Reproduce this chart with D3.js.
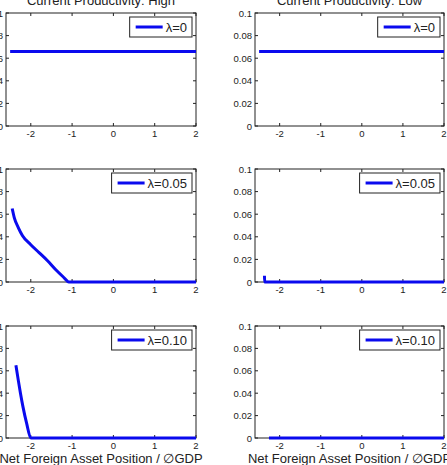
<!DOCTYPE html>
<html>
<head>
<meta charset="utf-8">
<title>Productivity panels</title>
<script src="https://cdn.jsdelivr.net/npm/d3@7"></script>
<style>
  body { margin: 0; background: #fff; }
  text { font-family: "Liberation Sans", Arial, sans-serif; fill: #222; }
</style>
</head>
<body>
<script>
// column titles, legend labels, ticks
var titles = ["Current Productivity: High", "Current Productivity: Low"];
var legends = ["\u03bb=0", "\u03bb=0.05", "\u03bb=0.10"];
var xTicks = [-2, -1, 0, 1, 2];
var yTicks = [0, 0.02, 0.04, 0.06, 0.08, 0.1];
var xLabel = "Net Foreign Asset Position / \u2205GDP";

// high productivity, lambda = 0 / 0.05 / 0.10
var highL0x  = [-2.5, 2];
var highL0y  = [0.066, 0.066];
var highL5x  = [-2.45, -2.4, -2.3, -2.2, -2.0, -1.8, -1.6, -1.4, -1.2, -1.08, 2];
var highL5y  = [0.065, 0.057, 0.048, 0.041, 0.033, 0.026, 0.019, 0.011, 0.004, 0, 0];
var highL10x = [-2.36, -2.3, -2.25, -2.19, -2.1, -2.0, 2];
var highL10y = [0.065, 0.051, 0.040, 0.028, 0.013, 0, 0];

// low productivity
var lowL0x  = [-2.5, 2];
var lowL0y  = [0.066, 0.066];
var lowL5x  = [-2.37, -2.365, 2];
var lowL5y  = [0.0055, 0, 0];
var lowL10x = [-2.26, 2];
var lowL10y = [0, 0];

var series = [
  [[highL0x, highL0y], [lowL0x, lowL0y]],
  [[highL5x, highL5y], [lowL5x, lowL5y]],
  [[highL10x, highL10y], [lowL10x, lowL10y]]
];

var W = 447, H = 465;
var colLeft = [6, 255], colRight = [196, 444];
var rowTop = [13, 169, 326], rowBottom = [126, 282, 438];

var svg = d3.select("body").append("svg")
    .attr("width", W)
    .attr("height", H);

for (var r = 0; r < 3; r++) {
  for (var c = 0; c < 2; c++) {
    var x = d3.scaleLinear().domain([-2.6, 2]).range([colLeft[c], colRight[c]]);
    var y = d3.scaleLinear().domain([0, 0.1]).range([rowBottom[r], rowTop[r]]);
    var g = svg.append("g");

    // frame
    g.append("rect")
        .attr("x", colLeft[c]).attr("y", rowTop[r])
        .attr("width", colRight[c] - colLeft[c])
        .attr("height", rowBottom[r] - rowTop[r])
        .attr("fill", "none").attr("stroke", "#222").attr("stroke-width", 1);

    // inward ticks on all sides
    xTicks.forEach(function(t) {
      g.append("line").attr("x1", x(t)).attr("x2", x(t))
        .attr("y1", rowBottom[r]).attr("y2", rowBottom[r] - 3).attr("stroke", "#222");
      g.append("line").attr("x1", x(t)).attr("x2", x(t))
        .attr("y1", rowTop[r]).attr("y2", rowTop[r] + 3).attr("stroke", "#222");
      g.append("text").attr("x", x(t)).attr("y", rowBottom[r] + 11)
        .attr("text-anchor", "middle").style("font-size", "9.5px").text(t);
    });
    yTicks.forEach(function(t) {
      g.append("line").attr("x1", colLeft[c]).attr("x2", colLeft[c] + 3)
        .attr("y1", y(t)).attr("y2", y(t)).attr("stroke", "#222");
      g.append("line").attr("x1", colRight[c]).attr("x2", colRight[c] - 3)
        .attr("y1", y(t)).attr("y2", y(t)).attr("stroke", "#222");
      g.append("text").attr("x", colLeft[c] - 3).attr("y", y(t) + 3.5)
        .attr("text-anchor", "end").style("font-size", "9.5px").text(t);
    });

    // data line
    var xs = series[r][c][0], ys = series[r][c][1];
    var pts = xs.map(function(v, i) { return [v, ys[i]]; });
    g.append("path")
        .datum(pts)
        .attr("fill", "none")
        .attr("stroke", "#0a0aee")
        .attr("stroke-width", 3)
        .attr("stroke-linejoin", "round")
        .attr("d", d3.line()
            .curve(d3.curveMonotoneX)
            .x(function(d) { return x(d[0]); })
            .y(function(d) { return y(d[1]); }));

    // legend
    var lg = g.append("g");
    var box = lg.append("rect").attr("fill", "#fff").attr("stroke", "#222");
    var txt = lg.append("text").style("font-size", "13px").text(legends[r]);
    var tw = txt.node().getComputedTextLength();
    var bw = 6 + 27 + 3 + tw + 5, bh = 20;
    var bx = colRight[c] - 4 - bw, by = rowTop[r] + 4;
    box.attr("x", bx).attr("y", by).attr("width", bw).attr("height", bh);
    lg.append("line").attr("x1", bx + 6).attr("x2", bx + 33)
      .attr("y1", by + bh / 2).attr("y2", by + bh / 2)
      .attr("stroke", "#0a0aee").attr("stroke-width", 3);
    txt.attr("x", bx + 36).attr("y", by + bh / 2 + 5);

    if (r === 0) {
      svg.append("text").attr("x", (colLeft[c] + colRight[c]) / 2).attr("y", 5)
        .attr("text-anchor", "middle").style("font-size", "13px").text(titles[c]);
    }
    if (r === 2) {
      svg.append("text").attr("x", (colLeft[c] + colRight[c]) / 2).attr("y", 463)
        .attr("text-anchor", "middle").style("font-size", "13px").text(xLabel);
    }
  }
}
</script>
</body>
</html>
